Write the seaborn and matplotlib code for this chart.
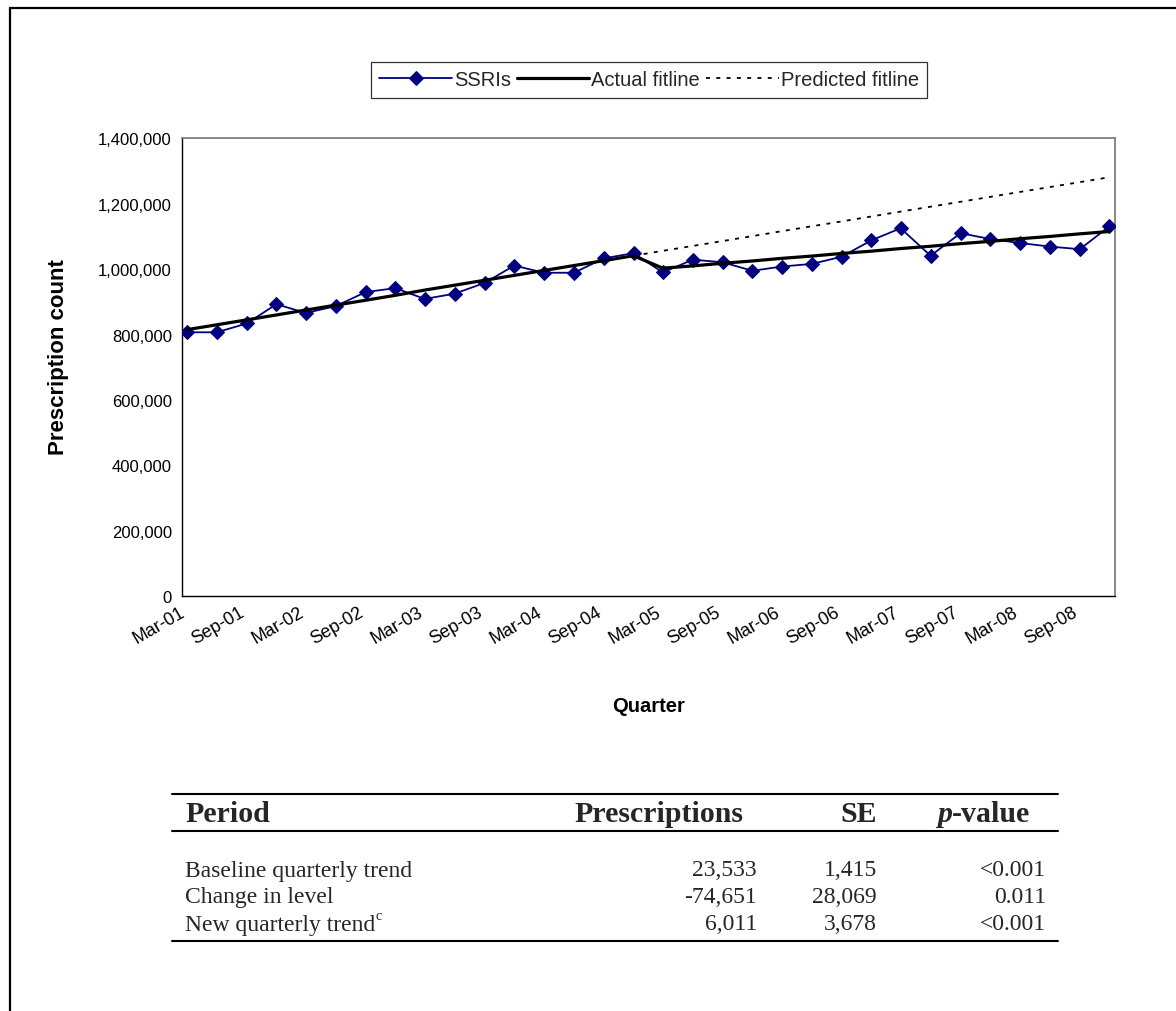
import numpy as np
import pandas as pd
import matplotlib
matplotlib.use("Agg")
import matplotlib.pyplot as plt
import matplotlib.transforms as mtransforms
from matplotlib.lines import Line2D
from matplotlib.ticker import FuncFormatter
import seaborn as sns

# ---- data -------------------------------------------------------------
quarter_dates = [pd.Timestamp(y, m, 15) for y in range(2001, 2009) for m in (3, 6, 9, 12)]

ssri_counts = [807000, 807000, 834000, 893000, 866000, 887000, 930000, 942000,
               909000, 925000, 958000, 1011000, 989000, 989000, 1033000, 1049000,
               990000, 1029000, 1021000, 995000, 1008000, 1016000, 1038000, 1088000,
               1125000, 1041000, 1110000, 1092000, 1080000, 1069000, 1061000, 1131000]

actual_fit = [815000, 830000, 845000, 860000, 875000, 890000, 905000, 920000,
              936000, 951000, 966000, 981000, 996000, 1011000, 1026000, 1041000,
              1003000, 1010000, 1018000, 1025000, 1033000, 1040000, 1048000, 1055000,
              1063000, 1070000, 1078000, 1085000, 1093000, 1100000, 1108000, 1115000]

# counterfactual line, starting at the last pre-intervention quarter (Dec-04)
predicted_start = 15
predicted_fit = [1041000, 1056000, 1071000, 1086000, 1101000, 1116000, 1131000,
                 1146000, 1161000, 1176000, 1191000, 1206000, 1221000, 1236000,
                 1251000, 1266000, 1281000]

tick_dates = [pd.Timestamp(y, m, 1) for y in range(2001, 2009) for m in (3, 9)]
y_ticks = [0, 200000, 400000, 600000, 800000, 1000000, 1200000, 1400000]

table_header = ["Period", "Prescriptions", "SE", "-value"]
table_periods = ["Baseline quarterly trend", "Change in level", "New quarterly trend"]
table_prescriptions = ["23,533", "-74,651", "6,011"]
table_se = ["1,415", "28,069", "3,678"]
table_p = ["<0.001", "0.011", "<0.001"]

# ---- figure -----------------------------------------------------------
sns.set_theme(style="white")
plt.rcParams["font.family"] = ["Liberation Sans", "DejaVu Sans"]

W, H = 1176, 1012
fig = plt.figure(figsize=(W / 100, H / 100), dpi=100)
fig.patch.set_facecolor("white")


def fx(x):
    return x / W


def fy(y):
    return 1 - y / H


ax_l, ax_r, ax_t, ax_b = 182.3, 1115.0, 139.3, 597.3
ax = fig.add_axes([fx(ax_l), fy(ax_b), (ax_r - ax_l) / W, (ax_b - ax_t) / H])
ax.set_facecolor("white")

series = pd.DataFrame({"quarter": quarter_dates, "ssri": ssri_counts, "fit": actual_fit})
pred = pd.DataFrame({"quarter": quarter_dates[predicted_start:], "pred": predicted_fit})

navy = "#000080"
sns.lineplot(data=series, x="quarter", y="ssri", ax=ax, color=navy, lw=1.3,
             marker="D", markersize=7.5, markeredgecolor=navy, markerfacecolor=navy,
             label="SSRIs", zorder=3)
sns.lineplot(data=series, x="quarter", y="fit", ax=ax, color="black", lw=2.3,
             label="Actual fitline", zorder=4)
sns.lineplot(data=pred, x="quarter", y="pred", ax=ax, color="black", lw=1.3,
             dashes=False, label="Predicted fitline", zorder=2)
ax.lines[-1].set_linestyle((0, (2.2, 3.5)))

ax.set_xlim(pd.Timestamp(2001, 3, 1), pd.Timestamp(2009, 1, 1))
ax.set_ylim(0, 1400000)
ax.set_yticks(y_ticks)
ax.yaxis.set_major_formatter(FuncFormatter(lambda v, p: f"{v:,.0f}"))
ax.set_xticks(tick_dates)
ax.set_xticklabels([d.strftime("%b-%y") for d in tick_dates])

ax.tick_params(axis="both", which="major", direction="out", length=6, width=1,
               color="black", labelcolor="black")
ax.tick_params(axis="y", pad=1.5, labelsize=12)
ax.tick_params(axis="x", pad=0, labelsize=13)
shift = mtransforms.ScaledTranslation(-3 / 100, 1 / 100, fig.dpi_scale_trans)
for lab in ax.get_xticklabels():
    lab.set_rotation(30)
    lab.set_ha("right")
    lab.set_rotation_mode("anchor")
    lab.set_transform(lab.get_transform() + shift)

for side in ("left", "bottom"):
    ax.spines[side].set_color("black")
    ax.spines[side].set_linewidth(1.0)
for side in ("top", "right"):
    ax.spines[side].set_color("#808080")
    ax.spines[side].set_linewidth(1.3)
ax.grid(False)

ax.set_ylabel("Prescription count", fontsize=16, fontweight="bold", color="black")
ax.yaxis.set_label_coords(-0.1215, (ax_b - 357) / (ax_b - ax_t))
ax.set_xlabel("Quarter", fontsize=14.5, fontweight="bold", color="black", va="top")
ax.xaxis.set_label_coords(0.5, -0.218)

handles, labels = ax.get_legend_handles_labels()
if ax.get_legend() is not None:
    ax.get_legend().remove()
leg = fig.legend(handles, labels, loc="center", bbox_to_anchor=(fx(649), fy(81)),
                 ncol=3, frameon=True, fancybox=False, fontsize=14.5,
                 handlelength=3.6, handletextpad=0.1, columnspacing=0.3,
                 borderpad=0.4, borderaxespad=0)
leg.get_frame().set_edgecolor("black")
leg.get_frame().set_linewidth(0.9)
leg.get_frame().set_facecolor("white")

# outer frame (top and left edges)
fig.add_artist(Line2D([fx(10), fx(10)], [0, fy(9)], transform=fig.transFigure,
                      color="black", lw=1.6))
fig.add_artist(Line2D([fx(10), 1], [fy(9), fy(9)], transform=fig.transFigure,
                      color="black", lw=1.6))

# ---- results table ----------------------------------------------------
serif = ["Liberation Serif", "DejaVu Serif"]
tfs = 17
hfs = 21.5
rule_l, rule_r = 172, 1058
for yy in (795, 832, 942):
    fig.add_artist(Line2D([fx(rule_l), fx(rule_r)], [fy(yy), fy(yy)],
                          transform=fig.transFigure, color="black", lw=1.5))

head_y = 815
fig.text(fx(185), fy(head_y), table_header[0], family=serif, fontsize=hfs,
         fontweight="bold", ha="left", va="center")
fig.text(fx(743), fy(head_y), table_header[1], family=serif, fontsize=hfs,
         fontweight="bold", ha="right", va="center")
fig.text(fx(877), fy(head_y), table_header[2], family=serif, fontsize=hfs,
         fontweight="bold", ha="right", va="center")
pv = fig.text(fx(1030), fy(head_y), table_header[3], family=serif, fontsize=hfs,
              fontweight="bold", ha="right", va="center")

renderer = fig.canvas.get_renderer()
bb = pv.get_window_extent(renderer)
fig.text(bb.x0 / W, fy(head_y), "p", family=serif, fontsize=hfs,
         fontweight="bold", fontstyle="italic", ha="right", va="center")

row_ys = [871, 898, 925]
for i, yy in enumerate(row_ys):
    t = fig.text(fx(185), fy(yy), table_periods[i], family=serif, fontsize=tfs,
                 ha="left", va="center")
    if i == 2:
        b = t.get_window_extent(renderer)
        fig.text(b.x1 / W + 0.0005, fy(yy - 8), "c", family=serif,
                 fontsize=tfs * 0.6, ha="left", va="center")
    fig.text(fx(757), fy(yy), table_prescriptions[i], family=serif, fontsize=tfs,
             ha="right", va="center")
    fig.text(fx(877), fy(yy), table_se[i], family=serif, fontsize=tfs,
             ha="right", va="center")
    fig.text(fx(1046), fy(yy), table_p[i], family=serif, fontsize=tfs,
             ha="right", va="center")

fig.savefig("out.png", dpi=100, facecolor="white")
